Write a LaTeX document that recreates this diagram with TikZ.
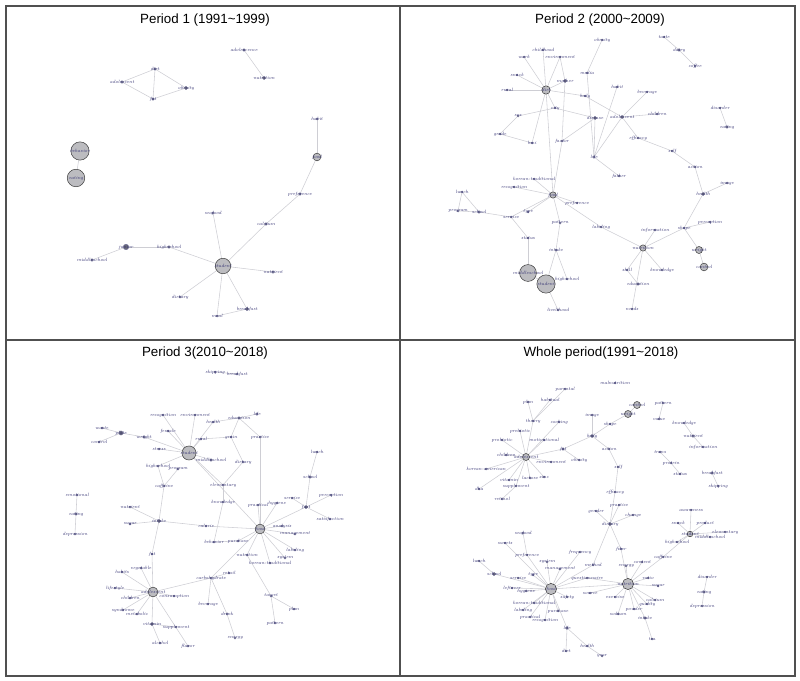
\documentclass[tikz,border=0pt]{standalone}
\usepackage{fontspec}
\newfontfamily\titlefont{Liberation Sans}
\usetikzlibrary{backgrounds}
\definecolor{wordblue}{RGB}{48,46,112}
\definecolor{edgegray}{RGB}{206,206,212}
\definecolor{dotgray}{RGB}{105,105,122}
\definecolor{hubgray}{RGB}{188,188,192}
\definecolor{framegray}{RGB}{80,80,80}
\tikzset{
  vert/.style={circle, inner sep=0pt, minimum size=#1pt, fill=dotgray, draw=wordblue!70, line width=0.2pt},
  hub/.style={circle, inner sep=0pt, minimum size=#1pt, fill=hubgray, draw=gray!45!black, line width=0.35pt},
  wlab/.style={text=wordblue, font=\fontsize{3.3}{3.5}\selectfont\itshape, inner sep=0pt},
  link/.style={draw=edgegray, line width=0.4pt},
  frame/.style={draw=framegray, line width=0.8pt},
  paneltitle/.style={font=\titlefont\fontsize{9.5}{11}\selectfont, text=black, inner sep=1pt},
}
% #1 prefix, #2 style, #3 list of id/x/y/size/word
\newcommand{\words}[3]{%
  \foreach \n/\x/\y/\s/\w in {#3} {%
    \node[#2=\s, label={[wlab]center:\w}] (#1\n) at (\x,\y) {};%
  }%
}
% #1 prefix, #2 list of id/id
\newcommand{\links}[2]{%
  \begin{pgfonlayer}{background}%
  \foreach \p/\q in {#2} {\draw[link] (#1\p) -- (#1\q);}%
  \end{pgfonlayer}%
}

\begin{document}
\begin{tikzpicture}[x=0.025cm, y=-0.025cm]
  \useasboundingbox (0,0) rectangle (800,681);

  % --- frame -----------------------------------------------------------------
  \draw[frame] (6,6) rectangle (795,676);
  \draw[frame] (400,6) -- (400,676);
  \draw[frame] (6,340) -- (795,340);

  \node[paneltitle] (t1) at (205,20) {Period 1 (1991\textasciitilde1999)};
  \node[paneltitle] (t2) at (600,20) {Period 2 (2000\textasciitilde2009)};
  \node[paneltitle] (t3) at (205,353) {Period 3(2010\textasciitilde2018)};
  \node[paneltitle] (t4) at (601,353) {Whole period(1991\textasciitilde2018)};

  % --- period 1 ----------------------------------------------------------------
  \words{a}{vert}{1/122/82/2/adolescent, 2/155/69/2/diet, 3/186/88/2.5/obesity,
    4/153/99/2/fat, 5/244/50/2/adolescence, 6/264/78/2.5/nutrition, 7/317/119/1.5/habit,
    11/300/194/2/preference, 12/213/213/1.5/seafood, 13/266/224/2/calcium,
    14/126/247/4/junior, 15/169/247/2/highschool, 16/92/260/2/middleschool,
    18/273/272/2/nutrient, 19/180/297/1.5/dietary, 20/217/316/1.5/meal, 21/247/309/2.5/breakfast}
  \words{a}{hub}{8/317/157/5.5/food, 9/80/151/13/behavior, 10/76/178/12.5/eating, 17/223/266/11/student}
  \links{a}{1/2, 1/4, 2/4, 2/3, 4/3, 5/6, 7/8, 8/11, 11/13, 13/17, 12/17, 9/10,
    17/15, 15/14, 14/16, 17/18, 17/19, 17/20, 17/21, 20/21}

  % --- period 2 ----------------------------------------------------------------
  \words{b}{vert}{1/602/40/1.5/obesity, 2/543/50/1.5/childhood, 3/560/57/1.5/environment,
    4/524/57/1.5/work, 5/517/75/1.5/snack, 6/587/73/1.5/media, 7/565/81/2.5/mother,
    8/507/90/1.5/rural, 10/585/96/1.5/body, 11/555/108/1.5/city, 12/518/116/1.5/sex,
    13/595/118/2.5/disease, 14/622/117/2.5/adolescent, 15/617/87/1.5/habit,
    16/500/134/1.5/grade, 17/532/143/1.5/bmi, 18/562/141/1.5/factor, 19/594/157/1.5/life,
    20/619/176/1.5/father, 21/534/179/1.5/korean-traditional, 22/514/187/1.5/recognition,
    23/664/37/1.5/taste, 24/679/50/2/dairy, 25/695/66/1.5/coffee, 26/647/92/1.5/beverage,
    27/657/114/1.5/children, 28/638/138/1.5/efficacy, 29/672/151/1.5/self,
    30/695/167/1.5/action, 31/727/183/1.5/image, 32/720/108/1.5/disorder, 33/727/127/2/eating,
    35/577/203/1.5/preference, 36/462/192/1.5/lunch, 37/458/211/1.5/program,
    38/479/212/2/school, 39/511/217/1.5/service, 40/528/212/1.5/type, 41/560/223/1.5/pattern,
    42/601/227/1.5/labeling, 43/528/238/1.5/status, 44/556/250/1.5/intake,
    47/567/279/1.5/highschool, 48/558/310/1.5/livelihood, 49/703/194/2.5/health,
    50/710/222/1.5/perception, 51/684/228/1.5/shape, 52/655/230/1.5/information,
    56/627/270/1.5/skill, 57/662/270/1.5/knowledge, 58/638/284/2/education, 59/632/309/1.5/needs}
  \words{b}{hub}{9/546/90/6/diet, 34/553/195/4.5/food, 45/528/273/12/middleschool,
    46/546/284/13/student, 53/643/248/4.5/nutrition, 54/699/250/5/weight, 55/704/267/5.5/control}
  \links{b}{9/4, 9/2, 9/3, 9/5, 9/8, 9/7, 9/10, 9/11, 9/17, 9/34, 3/7, 7/18, 1/6, 6/19,
    10/14, 11/12, 11/13, 12/16, 16/17, 13/18, 13/19, 19/20, 19/15, 14/26, 14/27, 14/28,
    14/19, 28/29, 29/30, 30/49, 49/31, 49/51, 51/50, 51/53, 51/54, 54/55, 34/21, 34/22,
    34/35, 34/40, 34/39, 34/41, 34/42, 34/18, 42/53, 36/37, 36/38, 37/38, 38/39, 39/43,
    43/45, 41/44, 44/46, 44/47, 45/46, 46/48, 53/52, 53/56, 53/57, 53/59, 56/58,
    23/24, 24/25, 32/33}

  % --- period 3 ----------------------------------------------------------------
  \words{c}{vert}{1/215/372/1.5/skipping, 2/237/374/1.5/breakfast, 3/102/428/1.5/waste,
    4/121/433/3/plate, 5/99/442/1.5/control, 6/144/437/2/weight, 7/163/415/1.5/recognition,
    8/195/415/1.5/environment, 9/168/431/1.5/female, 11/159/449/1.5/stress,
    12/158/466/1.5/highschool, 13/178/469/1.5/program, 14/211/460/2/middleschool,
    15/164/486/1.5/caffeine, 16/201/439/1.5/rural, 17/213/422/1.5/health,
    18/239/418/2/education, 19/257/414/1.5/life, 20/231/437/1.5/grain, 21/260/437/1.5/practice,
    22/243/462/1.5/dietary, 23/223/485/1.5/elementary, 24/223/502/1.5/knowledge,
    25/77/495/1.5/emotional, 26/76/514/2/eating, 27/75/534/1.5/depression,
    28/130/507/1.5/nutrient, 29/130/524/1.5/sugar, 30/159/521/2.5/intake,
    31/206/526/1.5/calorie, 32/317/452/1.5/lunch, 33/310/477/2/school, 34/292/498/1.5/service,
    35/331/495/1.5/perception, 36/258/505/1.5/practical, 37/277/503/1.5/hygiene,
    38/306/507/2.5/fast, 39/330/519/1.5/satisfaction, 41/282/526/1.5/analysis,
    42/295/534/1.5/management, 43/295/550/1.5/labeling, 44/285/558/1.5/system,
    45/270/563/1.5/korean-traditional, 46/247/555/1.5/nutrition, 47/214/542/1.5/behavior,
    48/238/541/1.5/purchase, 49/152/554/1.5/fat, 50/141/568/1.5/vegetable,
    51/122/572/1.5/habits, 52/115/588/1.5/lifestyle, 53/130/598/1.5/children,
    54/123/610/1.5/syndrome, 55/137/614/1.5/metabolic, 57/174/596/1.5/consumption,
    58/211/578/1.5/carbohydrate, 59/229/573/1.5/retail, 60/208/604/1.5/beverage,
    61/227/614/1.5/drink, 62/235/638/1.5/energy, 63/152/624/2.5/vitamin,
    64/176/627/1.5/supplement, 65/160/643/1.5/alcohol, 66/188/646/1.5/flavor,
    67/271/596/1.5/target, 68/294/609/1.5/plan, 69/275/623/1.5/pattern}
  \words{c}{hub}{10/189/453/10/student, 40/260/529/7/food, 56/153/592/7/adolescent}
  \links{c}{3/4, 5/4, 4/6, 6/10, 7/10, 8/10, 9/10, 11/10, 12/10, 14/10, 16/10, 17/10,
    10/23, 10/40, 12/15, 13/15, 15/30, 28/30, 29/30, 30/31, 31/40, 30/49, 49/56, 17/18,
    18/19, 18/20, 18/21, 20/16, 20/22, 21/40, 22/23, 23/24, 24/47, 47/48, 46/67, 67/68,
    67/69, 40/36, 40/37, 40/38, 40/41, 40/42, 40/43, 40/44, 40/45, 40/46, 40/48, 40/58,
    38/33, 33/32, 38/35, 38/39, 38/34, 58/56, 58/59, 58/60, 58/61, 61/62, 56/50, 56/51,
    56/52, 56/53, 56/54, 56/55, 56/57, 56/63, 56/66, 63/64, 63/65, 25/26, 26/27, 1/2}

  % --- whole period ------------------------------------------------------------
  \words{d}{vert}{1/565/389/1.5/parental, 2/528/402/1.5/plan, 3/550/400/1.5/habitual,
    4/533/421/1.5/theory, 5/559/422/1.5/cooking, 6/502/440/1.5/probiotic,
    7/520/431/1.5/prebiotic, 8/544/440/1.5/motivational, 9/563/449/2/fat,
    10/579/460/1.5/obesity, 11/506/455/1.5/children, 13/551/462/1.5/environment,
    14/486/469/1.5/korean-american, 15/479/489/1.5/dha, 16/509/480/1.5/vitamin,
    17/516/486/1.5/supplement, 18/530/478/1.5/lactose, 19/544/477/1.5/zinc,
    20/502/499/1.5/retinol, 21/592/415/1.5/image, 22/592/436/2.5/body, 23/610/424/1.5/shape,
    24/609/449/1.5/action, 25/618/467/1.5/self, 26/615/492/1.5/efficacy,
    27/619/505/1.5/practice, 28/596/511/1.5/gender, 30/615/383/1.5/malnutrition,
    32/663/403/1.5/pattern, 33/659/419/1.5/value, 34/684/423/1.5/knowledge,
    35/693/436/2/nutrient, 36/703/447/1.5/information, 37/660/452/1.5/trans,
    38/671/463/1.5/protein, 39/680/474/1.5/status, 40/712/473/2/breakfast,
    41/718/486/1.5/skipping, 42/691/510/1.5/awareness, 43/633/515/1.5/change,
    44/610/524/2.5/dietary, 45/678/523/1.5/snack, 46/705/523/1.5/product,
    47/725/532/1.5/elementary, 49/710/537/1.5/middleschool, 50/677/542/1.5/highschool,
    51/663/557/1.5/caffeine, 52/621/549/1.5/fiber, 53/580/552/1.5/frequency,
    54/593/565/1.5/method, 55/626/566/1.5/energy, 56/642/562/1.5/content,
    57/523/533/1.5/seafood, 58/505/543/1.5/sweets, 59/527/555/1.5/preference,
    60/479/561/1.5/lunch, 61/547/562/1.5/system, 62/560/569/1.5/management,
    63/494/574/2.5/school, 64/518/578/1.5/service, 65/533/575/1.5/type,
    66/587/578/1.5/questionnaire, 69/512/588/1.5/leftover, 70/526/591/1.5/hygiene,
    71/648/578/1.5/ratio, 72/658/586/1.5/sugar, 73/655/600/1.5/calcium,
    74/590/593/1.5/source, 75/615/597/1.5/exercise, 76/567/597/1.5/safety,
    77/647/604/1.5/quality, 78/634/609/1.5/powder, 79/618/614/1.5/sodium,
    80/534/603/1.5/korean-traditional, 81/523/610/1.5/labeling, 82/558/611/1.5/purchase,
    83/530/617/1.5/practical, 84/545/620/1.5/recognition, 85/645/618/2/intake,
    86/567/628/2/life, 87/587/646/1.5/health, 88/566/651/1.5/diet, 89/602/656/1.5/year,
    90/652/639/1.5/tea, 91/707/577/1.5/disorder, 92/704/592/2/eating, 93/702/606/1.5/depression}
  \words{d}{hub}{12/526/457/5/adolescent, 29/628/414/5/weight, 31/637/405/5/control,
    48/690/534/4/student, 67/551/589/8/food, 68/628/584/8/nutrition}
  \links{d}{1/4, 2/4, 3/4, 4/12, 5/12, 8/12, 6/12, 7/12, 11/12, 13/12, 14/12, 15/12,
    16/12, 17/12, 18/12, 19/12, 17/20, 12/9, 9/10, 9/22, 22/21, 22/23, 23/29, 29/31,
    22/24, 24/25, 25/26, 26/44, 27/44, 28/44, 43/44, 44/52, 44/54, 52/68, 54/67, 32/33,
    34/35, 35/36, 37/38, 38/39, 40/41, 42/48, 45/48, 46/48, 47/48, 49/48, 50/48, 48/51,
    51/68, 53/67, 57/59, 59/67, 58/67, 60/63, 63/67, 64/67, 65/67, 61/67, 62/67, 66/67,
    66/68, 69/67, 70/67, 76/67, 80/67, 81/67, 82/67, 83/67, 84/67, 67/86, 86/87, 86/88,
    87/89, 55/68, 56/68, 71/68, 72/68, 73/68, 74/68, 75/68, 77/68, 78/68, 79/68, 68/85,
    85/90, 91/92, 92/93, 67/68}

\end{tikzpicture}
\end{document}
